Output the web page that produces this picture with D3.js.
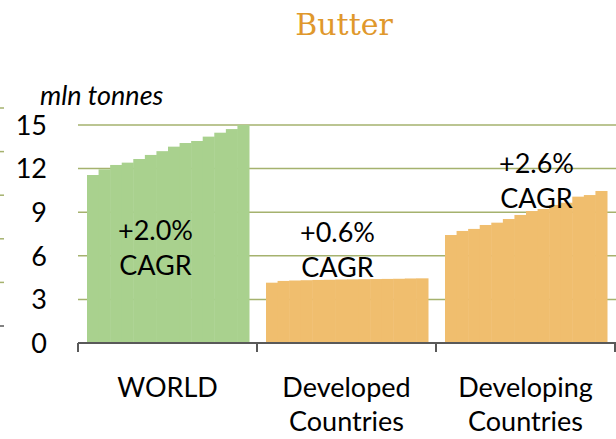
<!DOCTYPE html>
<html>
<head>
<meta charset="utf-8">
<script src="https://cdn.jsdelivr.net/npm/d3@7"></script>
<style>
  body { margin: 0; background: #fff; }
  svg text { font-family: Lato, "Open Sans", sans-serif; fill: #000; }
</style>
</head>
<body>
<svg id="chart" width="616" height="439"></svg>
<script>
// Butter production, mln tonnes, one thin bar per year
const regions = ["WORLD", "Developed Countries", "Developing Countries"];
const years = d3.range(2013, 2027);
const world = [11.56, 11.95, 12.25, 12.41, 12.66, 12.94, 13.2, 13.51, 13.76, 13.9, 14.2, 14.47, 14.72, 15.0];
const developed = [4.15, 4.27, 4.3, 4.32, 4.34, 4.35, 4.37, 4.38, 4.39, 4.4, 4.41, 4.42, 4.44, 4.45];
const developing = [7.43, 7.71, 7.85, 8.12, 8.28, 8.53, 8.81, 9.08, 9.22, 9.5, 9.65, 10.07, 10.18, 10.46];
const cagr = ["+2.0%", "+0.6%", "+2.6%"];
const yTicks = [0, 3, 6, 9, 12, 15];

const series = [world, developed, developing];
const colors = ["#a9d18e", "#f0be6e", "#f0be6e"];

const svg = d3.select("#chart");

let y = d3.scaleLinear().domain([0, 15]).range([343, 125]);
let x = d3.scaleBand().domain(regions).range([78, 615]);
let xYear = d3.scaleBand().domain(years).range([9, x.bandwidth() - 8]);

// leftover stubs of the neighbouring chart at the left edge
svg.append("g").selectAll("line")
    .data(yTicks)
    .join("line")
    .attr("x1", 0).attr("x2", 4)
    .attr("y1", d => y(d) - 17).attr("y2", d => y(d) - 17)
    .attr("stroke", d => d == 0 ? "#595959" : "#a5b26e")
    .attr("stroke-width", 1.5);

// gridlines
svg.append("g").selectAll("line")
    .data(yTicks.filter(d => d > 0))
    .join("line")
    .attr("x1", 78).attr("x2", 616)
    .attr("y1", d => y(d)).attr("y2", d => y(d))
    .attr("stroke", "#a5b26e")
    .attr("stroke-width", 1.5);

// bars
series.forEach((values, i) => {
    svg.append("g")
        .attr("transform", `translate(${x(regions[i])},0)`)
        .selectAll("rect")
        .data(values)
        .join("rect")
        .attr("x", (d, j) => xYear(years[j]))
        .attr("width", xYear.bandwidth() + 0.5)
        .attr("y", d => y(d))
        .attr("height", d => y(0) - y(d))
        .attr("fill", colors[i]);
});

// y labels
svg.append("g").selectAll("text")
    .data(yTicks)
    .join("text")
    .attr("x", 47)
    .attr("y", d => y(d))
    .attr("dy", "0.36em")
    .attr("text-anchor", "end")
    .style("font-size", "27px")
    .text(d => d);

// x axis
svg.append("line")
    .attr("x1", 78).attr("x2", 616)
    .attr("y1", y(0)).attr("y2", y(0))
    .attr("stroke", "#595959").attr("stroke-width", 2);
svg.append("g").selectAll("line")
    .data(regions.concat(["end"]))
    .join("line")
    .attr("x1", (d, i) => 78 + i * x.step()).attr("x2", (d, i) => 78 + i * x.step())
    .attr("y1", y(0)).attr("y2", y(0) + 9)
    .attr("stroke", "#595959").attr("stroke-width", 2);

// category labels
svg.append("g").selectAll("text")
    .data(regions)
    .join("text")
    .attr("text-anchor", "middle")
    .attr("x", d => x(d) + x.bandwidth() / 2)
    .attr("y", 397)
    .style("font-size", "27px")
    .each(function(d) {
        let words = d.split(" ");
        d3.select(this).selectAll("tspan")
            .data(words)
            .join("tspan")
            .attr("x", x(d) + x.bandwidth() / 2)
            .attr("dy", (w, k) => k == 0 ? 0 : 34)
            .text(w => w);
    });

// CAGR labels
const labelPos = [[-12, 240], [-9, 242], [11, 173]];
cagr.forEach((c, i) => {
    let cx = x(regions[i]) + x.bandwidth() / 2 + labelPos[i][0];
    let t = svg.append("text")
        .attr("text-anchor", "middle")
        .attr("x", cx)
        .attr("y", labelPos[i][1])
        .style("font-size", "27px");
    t.append("tspan").attr("x", cx).text(c);
    t.append("tspan").attr("x", cx).attr("dy", 35).text("CAGR");
});

// unit label
svg.append("text")
    .attr("x", 40).attr("y", 105)
    .style("font-size", "27px")
    .style("font-style", "italic")
    .text("mln tonnes");

// title
svg.append("text")
    .attr("x", 344).attr("y", 35)
    .attr("text-anchor", "middle")
    .style("font-family", "'DejaVu Serif', serif")
    .style("font-size", "30px")
    .style("fill", "#e0982c")
    .text("Butter");
</script>
</body>
</html>
